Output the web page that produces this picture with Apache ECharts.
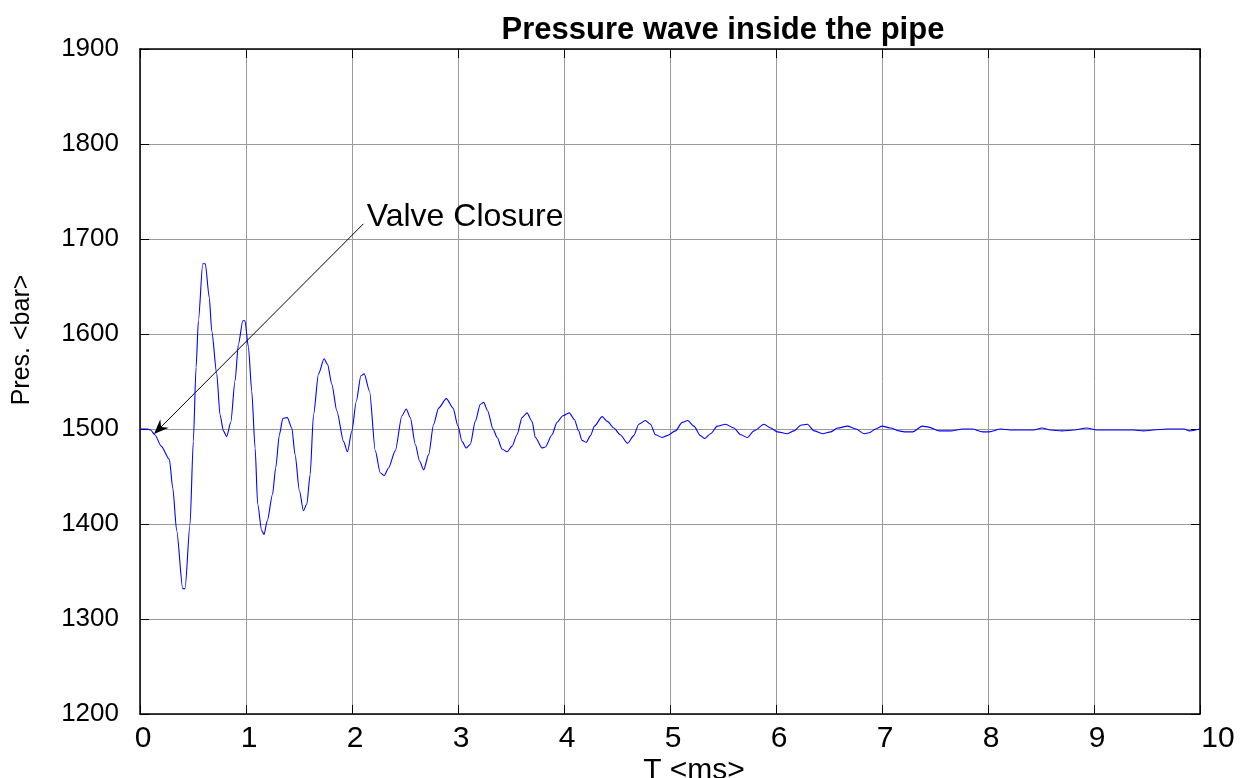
<!DOCTYPE html>
<html>
<head>
<meta charset="utf-8">
<script src="https://cdn.jsdelivr.net/npm/echarts@6/dist/echarts.min.js"></script>
<style>html,body{margin:0;padding:0;background:#fff}#c{width:1246px;height:778px}</style>
</head>
<body>
<div id="c"></div>
<script>
// ---- data ----
const timeMs = [
  0, 0.07, 0.1, 0.14, 0.2, 0.277, 0.309, 0.346, 0.403, 0.425, 0.472, 0.503, 0.529, 0.551, 0.592, 0.616,
  0.654, 0.677, 0.724, 0.755, 0.787, 0.818, 0.856, 0.897, 0.928, 0.97, 0.99, 1.023, 1.054, 1.086, 1.11,
  1.148, 1.17, 1.2, 1.25, 1.28, 1.315, 1.347, 1.39, 1.432, 1.463, 1.504, 1.542, 1.574, 1.605, 1.637,
  1.684, 1.737, 1.769, 1.81, 1.857, 1.92, 1.957, 1.999, 2.04, 2.084, 2.115, 2.165, 2.22, 2.266, 2.304,
  2.345, 2.408, 2.471, 2.512, 2.55, 2.597, 2.638, 2.676, 2.723, 2.77, 2.817, 2.89, 2.953, 3.0, 3.038,
  3.078, 3.116, 3.163, 3.211, 3.242, 3.28, 3.33, 3.37, 3.415, 3.463, 3.51, 3.557, 3.604, 3.651, 3.698,
  3.73, 3.793, 3.824, 3.887, 3.934, 3.99, 4.05, 4.098, 4.138, 4.17, 4.21, 4.25, 4.287, 4.36, 4.41, 4.47,
  4.53, 4.6, 4.658, 4.705, 4.768, 4.816, 4.863, 4.926, 4.973, 5.052, 5.115, 5.168, 5.225, 5.288, 5.326,
  5.383, 5.446, 5.524, 5.603, 5.666, 5.729, 5.792, 5.887, 5.95, 6.013, 6.107, 6.17, 6.233, 6.296, 6.36,
  6.44, 6.517, 6.58, 6.675, 6.753, 6.832, 6.88, 6.94, 7.003, 7.082, 7.16, 7.21, 7.29, 7.38, 7.44, 7.54,
  7.65, 7.76, 7.85, 7.95, 8.01, 8.12, 8.21, 8.32, 8.43, 8.51, 8.59, 8.7, 8.81, 8.93, 9.03, 9.19, 9.37,
  9.47, 9.56, 9.69, 9.85, 9.9, 10
];
const pressureBar = [
  1500, 1500, 1499, 1494, 1482, 1468, 1438, 1393, 1332, 1332, 1400, 1487, 1565, 1614, 1674, 1674,
  1638, 1603, 1558, 1515, 1498, 1492, 1507, 1551, 1589, 1614, 1614, 1586, 1540, 1480, 1421,
  1393, 1389, 1403, 1431, 1459, 1494, 1511, 1512, 1501, 1473, 1435, 1414, 1421, 1452, 1515,
  1558, 1574, 1568, 1547, 1519, 1487, 1476, 1498, 1529, 1556, 1558, 1540, 1477, 1454, 1451,
  1459, 1477, 1514, 1521, 1512, 1484, 1466, 1457, 1473, 1505, 1522, 1532, 1522, 1503, 1487,
  1480, 1484, 1508, 1526, 1528, 1519, 1500, 1491, 1479, 1476, 1482, 1494, 1512, 1517, 1508,
  1491, 1480, 1481, 1494, 1507, 1514, 1517, 1510, 1498, 1488, 1486, 1493, 1503, 1513, 1508, 1501,
  1494, 1485, 1493, 1505, 1509, 1505, 1494, 1491, 1493, 1498, 1507, 1509, 1503, 1493, 1490,
  1495, 1503, 1505, 1501, 1494, 1491, 1498, 1505, 1501, 1497, 1495, 1498, 1504, 1505, 1498,
  1495, 1497, 1501, 1503, 1500, 1495, 1496, 1500, 1503, 1501, 1498, 1497, 1497, 1503, 1502, 1498,
  1498, 1500, 1500, 1497, 1497, 1500, 1499, 1499, 1499, 1501, 1499, 1498, 1499, 1501, 1499, 1499, 1499,
  1498, 1499, 1500, 1500, 1498, 1500
];
const xTickLabels = ['0','1','2','3','4','5','6','7','8','9','10'];
const yTickLabels = ['1200','1300','1400','1500','1600','1700','1800','1900'];
const titleText = 'Pressure wave inside the pipe';
const xName = 'T <ms>';
const yName = 'Pres. <bar>';
const annotText = 'Valve Closure';
const annotTextAt = [2.139, 1706];   // [ms, bar]
const arrowFrom = [2.108, 1716];     // [ms, bar]
const arrowTo = [0.132, 1494.7];     // [ms, bar]

const F = '"Liberation Sans", Arial, Helvetica, sans-serif';
const seriesData = timeMs.map((t, i) => [t, pressureBar[i]]);
const xMin = Number(xTickLabels[0]), xMax = Number(xTickLabels[xTickLabels.length - 1]);
const yMin = Number(yTickLabels[0]), yMax = Number(yTickLabels[yTickLabels.length - 1]);

const chart = echarts.init(document.getElementById('c'), null, {renderer: 'canvas'});

const tickInside = {show: true, inside: true, length: 9, lineStyle: {color: '#000', width: 1}};
const frameLine = {show: true, onZero: false, lineStyle: {color: '#000', width: 1.5}};

chart.setOption({
  animation: false,
  backgroundColor: '#fff',
  title: {
    text: titleText, left: 718, top: 10, textAlign: 'center',
    textStyle: {fontFamily: F, fontSize: 31, fontWeight: 'bold', color: '#000'}
  },
  grid: {left: 140, right: 46, top: 49, bottom: 64, containLabel: false, outerBoundsMode: 'none'},
  xAxis: [{
    type: 'value', min: xMin, max: xMax, interval: 1,
    axisLine: frameLine, axisTick: tickInside,
    splitLine: {show: true, lineStyle: {color: '#9a9a9a', width: 1}},
    axisLabel: {
      margin: 10, color: '#000', fontFamily: F, fontSize: 30, showMaxLabel: true, showMinLabel: true,
      formatter: v => (v === xMax ? '{w|' + xTickLabels[v] + '}' : '{n|' + xTickLabels[Math.round(v)] + '}'),
      rich: {
        n: {fontFamily: F, fontSize: 30, color: '#000', padding: [0, 0, 0, 6]},
        w: {fontFamily: F, fontSize: 30, color: '#000', padding: [0, 0, 0, 36]}
      }
    }
  }, {
    type: 'value', position: 'top', min: xMin, max: xMax, interval: 1,
    axisLine: frameLine, axisTick: tickInside, axisLabel: {show: false}, splitLine: {show: false}
  }],
  yAxis: [{
    type: 'value', min: yMin, max: yMax, interval: 100,
    axisLine: frameLine, axisTick: tickInside,
    splitLine: {show: true, lineStyle: {color: '#9a9a9a', width: 1}},
    axisLabel: {margin: 21, color: '#000', fontFamily: F, fontSize: 26, showMaxLabel: true, showMinLabel: true,
      formatter: v => yTickLabels[Math.round((v - yMin) / 100)]}
  }, {
    type: 'value', position: 'right', min: yMin, max: yMax, interval: 100,
    axisLine: frameLine, axisTick: tickInside, axisLabel: {show: false}, splitLine: {show: false}
  }],
  series: [{
    type: 'line', xAxisIndex: 0, yAxisIndex: 0, data: seriesData,
    showSymbol: false, symbol: 'none', smooth: 0.25, smoothMonotone: 'x',
    lineStyle: {color: '#0000ff', width: 1.1}
  }]
});

const pText = chart.convertToPixel({gridIndex: 0}, annotTextAt);
const pA = chart.convertToPixel({gridIndex: 0}, arrowFrom);
const pB = chart.convertToPixel({gridIndex: 0}, arrowTo);
// arrow head geometry along the line direction
const dx = pB[0] - pA[0], dy = pB[1] - pA[1];
const len = Math.hypot(dx, dy), ux = dx / len, uy = dy / len, nx = -uy, ny = ux;
const headL = 15, headW = 6, notch = 10;
const tip = pB;
const left = [tip[0] - ux * headL + nx * headW, tip[1] - uy * headL + ny * headW];
const right = [tip[0] - ux * headL - nx * headW, tip[1] - uy * headL - ny * headW];
const back = [tip[0] - ux * notch, tip[1] - uy * notch];

chart.setOption({
  graphic: [
    {type: 'line', shape: {x1: pA[0], y1: pA[1], x2: back[0], y2: back[1]},
     style: {stroke: '#000', lineWidth: 1}},
    {type: 'polygon', shape: {points: [tip, left, back, right]}, style: {fill: '#000'}},
    {type: 'text', x: pText[0], y: pText[1],
     style: {text: annotText, font: '32px ' + F, fill: '#000', textAlign: 'left', textVerticalAlign: 'bottom'}},
    {type: 'text', x: 22, y: 340, rotation: Math.PI / 2,
     style: {text: yName, font: '25px ' + F, fill: '#000', textAlign: 'center', textVerticalAlign: 'middle'}},
    {type: 'text', x: 694, y: 756,
     style: {text: xName, font: '30px ' + F, fill: '#000', textAlign: 'center', textVerticalAlign: 'top'}}
  ]
});
</script>
</body>
</html>
